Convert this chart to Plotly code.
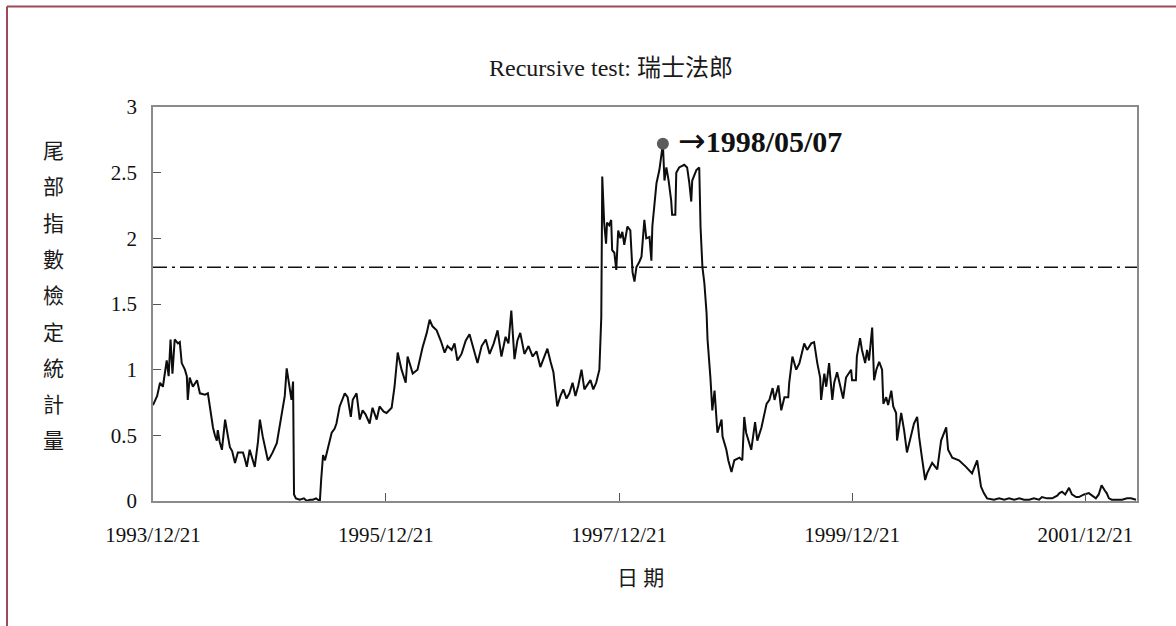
import plotly.graph_objects as go

# Recursive tail-index test statistic for the Swiss franc (瑞士法郎)
obs_dates = [
    "1993-12-21", "1994-01-03", "1994-01-12", "1994-01-21", "1994-02-02", "1994-02-08", "1994-02-14", "1994-02-20",
    "1994-02-27", "1994-03-09", "1994-03-15", "1994-03-21", "1994-03-31", "1994-04-06", "1994-04-09", "1994-04-15",
    "1994-04-25", "1994-05-08", "1994-05-17", "1994-06-02", "1994-06-11", "1994-06-17", "1994-06-27", "1994-07-03",
    "1994-07-09", "1994-07-12", "1994-07-18", "1994-07-25", "1994-08-04", "1994-08-13", "1994-08-19", "1994-08-26",
    "1994-09-04", "1994-09-13", "1994-09-29", "1994-10-05", "1994-10-11", "1994-10-20", "1994-10-27", "1994-11-05",
    "1994-11-15", "1994-11-21", "1994-11-30", "1994-12-07", "1994-12-16", "1994-12-22", "1994-12-31", "1995-01-13",
    "1995-01-22", "1995-02-01", "1995-02-07", "1995-02-13", "1995-02-22", "1995-02-28", "1995-03-05", "1995-03-08",
    "1995-03-14", "1995-03-26", "1995-04-08", "1995-04-17", "1995-04-27", "1995-05-06", "1995-05-16", "1995-05-28",
    "1995-06-01", "1995-06-07", "1995-06-13", "1995-06-22", "1995-07-04", "1995-07-13", "1995-07-19", "1995-07-29",
    "1995-08-07", "1995-08-14", "1995-08-23", "1995-09-02", "1995-09-08", "1995-09-20", "1995-09-30", "1995-10-09",
    "1995-10-18", "1995-10-31", "1995-11-09", "1995-11-22", "1995-12-01", "1995-12-14", "1995-12-23", "1996-01-08",
    "1996-01-17", "1996-01-27", "1996-02-08", "1996-02-21", "1996-02-27", "1996-03-04", "1996-03-14", "1996-03-29",
    "1996-04-05", "1996-04-14", "1996-04-27", "1996-05-06", "1996-05-15", "1996-05-28", "1996-06-10", "1996-06-22",
    "1996-07-01", "1996-07-14", "1996-07-23", "1996-08-01", "1996-08-14", "1996-08-27", "1996-09-08", "1996-09-21",
    "1996-10-03", "1996-10-16", "1996-10-29", "1996-11-10", "1996-11-23", "1996-12-05", "1996-12-17", "1996-12-30",
    "1997-01-08", "1997-01-17", "1997-01-27", "1997-02-05", "1997-02-14", "1997-02-27", "1997-03-12", "1997-03-25",
    "1997-04-06", "1997-04-18", "1997-05-01", "1997-05-10", "1997-05-20", "1997-05-29", "1997-06-04", "1997-06-10",
    "1997-06-20", "1997-06-29", "1997-07-09", "1997-07-18", "1997-07-28", "1997-08-06", "1997-08-15", "1997-08-25",
    "1997-09-03", "1997-09-12", "1997-09-22", "1997-10-01", "1997-10-10", "1997-10-20", "1997-10-26", "1997-10-29",
    "1997-11-04", "1997-11-10", "1997-11-13", "1997-11-20", "1997-11-26", "1997-11-29", "1997-12-06", "1997-12-12",
    "1997-12-18", "1997-12-25", "1997-12-31", "1998-01-06", "1998-01-16", "1998-01-25", "1998-02-01", "1998-02-07",
    "1998-02-13", "1998-02-22", "1998-03-01", "1998-03-10", "1998-03-16", "1998-03-26", "1998-04-01", "1998-04-04",
    "1998-04-10", "1998-04-17", "1998-04-26", "1998-05-07", "1998-05-12", "1998-05-18", "1998-05-25", "1998-06-02",
    "1998-06-05", "1998-06-15", "1998-06-18", "1998-06-27", "1998-07-13", "1998-07-22", "1998-07-29", "1998-08-04",
    "1998-08-07", "1998-08-20", "1998-08-29", "1998-09-02", "1998-09-08", "1998-09-14", "1998-09-21", "1998-09-24",
    "1998-10-03", "1998-10-09", "1998-10-16", "1998-10-22", "1998-10-25", "1998-11-07", "1998-11-10", "1998-11-22",
    "1998-11-28", "1998-12-08", "1998-12-17", "1999-01-02", "1999-01-11", "1999-01-17", "1999-01-23", "1999-02-08",
    "1999-02-20", "1999-02-27", "1999-03-12", "1999-03-28", "1999-04-06", "1999-04-16", "1999-04-22", "1999-05-04",
    "1999-05-13", "1999-05-23", "1999-06-04", "1999-06-07", "1999-06-17", "1999-06-29", "1999-07-09", "1999-07-24",
    "1999-08-02", "1999-08-15", "1999-08-24", "1999-09-03", "1999-09-12", "1999-09-15", "1999-09-25", "1999-10-01",
    "1999-10-10", "1999-10-20", "1999-10-26", "1999-11-04", "1999-11-17", "1999-11-23", "1999-12-02", "1999-12-18",
    "1999-12-21", "2000-01-02", "2000-01-05", "2000-01-15", "2000-01-21", "2000-01-31", "2000-02-06", "2000-02-12",
    "2000-02-22", "2000-02-28", "2000-03-06", "2000-03-15", "2000-03-24", "2000-03-28", "2000-04-06", "2000-04-12",
    "2000-04-22", "2000-04-28", "2000-05-07", "2000-05-10", "2000-05-23", "2000-06-01", "2000-06-10", "2000-06-23",
    "2000-07-02", "2000-07-12", "2000-07-18", "2000-07-27", "2000-08-06", "2000-08-12", "2000-08-28", "2000-09-13",
    "2000-09-25", "2000-10-11", "2000-10-17", "2000-10-30", "2000-11-20", "2000-12-12", "2000-12-31", "2001-01-16",
    "2001-01-28", "2001-02-06", "2001-02-16", "2001-03-10", "2001-03-26", "2001-04-11", "2001-04-26", "2001-05-12",
    "2001-05-28", "2001-06-12", "2001-06-28", "2001-07-13", "2001-07-29", "2001-08-07", "2001-08-23", "2001-09-08",
    "2001-09-24", "2001-10-01", "2001-10-09", "2001-10-19", "2001-10-31", "2001-11-09", "2001-11-22", "2001-12-01",
    "2001-12-17", "2002-01-01", "2002-01-14", "2002-01-23", "2002-02-01", "2002-02-10", "2002-02-20", "2002-02-26",
    "2002-03-05", "2002-03-14", "2002-03-30", "2002-04-15", "2002-05-01", "2002-05-13", "2002-05-29",
]

tail_stat = [
    0.73, 0.80, 0.90, 0.87, 1.07, 0.95, 1.23, 0.97,
    1.23, 1.20, 1.21, 1.05, 1.00, 0.95, 0.77, 0.94,
    0.87, 0.92, 0.82, 0.81, 0.82, 0.72, 0.56, 0.50,
    0.46, 0.54, 0.45, 0.39, 0.62, 0.49, 0.41, 0.38,
    0.29, 0.37, 0.37, 0.32, 0.26, 0.39, 0.33, 0.26,
    0.45, 0.62, 0.49, 0.40, 0.31, 0.33, 0.37, 0.44,
    0.56, 0.69, 0.80, 1.01, 0.87, 0.77, 0.91, 0.05,
    0.02, 0.01, 0.02, 0.00, 0.01, 0.01, 0.02, 0.00,
    0.16, 0.35, 0.31, 0.41, 0.52, 0.55, 0.59, 0.72,
    0.78, 0.82, 0.79, 0.64, 0.77, 0.82, 0.62, 0.69,
    0.66, 0.59, 0.71, 0.62, 0.72, 0.68, 0.67, 0.71,
    0.87, 1.13, 1.00, 0.90, 1.10, 1.05, 0.97, 1.00,
    1.08, 1.17, 1.28, 1.38, 1.33, 1.30, 1.22, 1.13,
    1.18, 1.15, 1.20, 1.07, 1.12, 1.22, 1.27, 1.15,
    1.05, 1.18, 1.23, 1.12, 1.20, 1.30, 1.10, 1.25,
    1.20, 1.45, 1.08, 1.22, 1.28, 1.12, 1.18, 1.10,
    1.14, 1.02, 1.10, 1.16, 1.06, 0.98, 0.85, 0.72,
    0.80, 0.85, 0.78, 0.82, 0.90, 0.80, 0.88, 1.00,
    0.85, 0.88, 0.92, 0.85, 0.90, 1.00, 1.40, 2.47,
    2.12, 1.96, 2.12, 2.10, 2.14, 1.91, 1.89, 1.76,
    2.06, 2.00, 2.05, 1.95, 2.09, 2.06, 1.74, 1.67,
    1.78, 1.82, 1.86, 2.14, 2.00, 2.01, 1.83, 2.09,
    2.25, 2.42, 2.52, 2.72, 2.44, 2.54, 2.44, 2.29,
    2.18, 2.18, 2.50, 2.54, 2.56, 2.54, 2.42, 2.28,
    2.44, 2.52, 2.54, 2.09, 1.78, 1.66, 1.43, 1.23,
    0.94, 0.69, 0.84, 0.64, 0.52, 0.62, 0.49, 0.39,
    0.31, 0.22, 0.31, 0.33, 0.31, 0.64, 0.52, 0.39,
    0.60, 0.46, 0.56, 0.74, 0.77, 0.86, 0.77, 0.88,
    0.69, 0.79, 0.79, 0.90, 1.10, 1.00, 1.05, 1.20,
    1.15, 1.20, 1.21, 1.05, 0.94, 0.77, 0.97, 0.87,
    1.05, 0.77, 0.90, 0.98, 0.84, 0.78, 0.94, 1.00,
    0.92, 0.92, 1.10, 1.24, 1.15, 1.05, 1.15, 1.07,
    1.32, 0.92, 1.00, 1.06, 1.00, 0.74, 0.79, 0.73,
    0.84, 0.72, 0.67, 0.46, 0.67, 0.54, 0.37, 0.49,
    0.59, 0.64, 0.49, 0.33, 0.16, 0.21, 0.29, 0.24,
    0.46, 0.56, 0.39, 0.33, 0.31, 0.26, 0.21, 0.31,
    0.11, 0.06, 0.02, 0.01, 0.02, 0.01, 0.02, 0.01,
    0.02, 0.01, 0.01, 0.02, 0.01, 0.03, 0.02, 0.02,
    0.04, 0.06, 0.07, 0.05, 0.10, 0.05, 0.03, 0.03,
    0.05, 0.06, 0.04, 0.02, 0.05, 0.12, 0.08, 0.06,
    0.02, 0.01, 0.01, 0.01, 0.02, 0.02, 0.01,
]
assert len(obs_dates) == len(tail_stat)

critical_value = 1.78
x_tick_dates = ["1993-12-21", "1995-12-21", "1997-12-21", "1999-12-21", "2001-12-21"]
x_tick_labels = [d.replace("-", "/") for d in x_tick_dates]
x_end = "2002-06-01"

title_text = "Recursive test: 瑞士法郎"
y_title_chars = list("尾部指數檢定統計量")
x_title_text = "日 期"

# ---- canvas geometry (pixels) ----
W, H = 1176, 626
ML, MR, MT, MB = 153, 39, 107, 125
PW, PH = W - ML - MR, H - MT - MB


def fx(px):
    return (px - ML) / PW


def fy(py):
    return (H - MB - py) / PH


SERIF = "Liberation Serif, 'Noto Sans CJK TC', serif"
AXIS_GREY = "#8a8a8a"

fig = go.Figure()

fig.add_trace(go.Scatter(
    x=obs_dates, y=tail_stat, mode="lines",
    line=dict(color="#0d0d0d", width=2), hoverinfo="skip", showlegend=False,
))

# peak marker
peak_i = max(range(len(tail_stat)), key=lambda i: tail_stat[i])
peak_date, peak_val = obs_dates[peak_i], tail_stat[peak_i]
fig.add_trace(go.Scatter(
    x=[peak_date], y=[peak_val], mode="markers",
    marker=dict(color="#5c5c5c", size=12), hoverinfo="skip", showlegend=False,
))
fig.add_annotation(
    x=peak_date, y=peak_val, xref="x", yref="y",
    text='<span style="font-family:DejaVu Sans;font-size:33px">→</span><b>'
         + peak_date.replace("-", "/") + "</b>",
    showarrow=False, xanchor="left", yanchor="middle", xshift=13, yshift=3,
    font=dict(family=SERIF, size=30, color="#111111"),
)

# critical value line
fig.add_hline(y=critical_value, line=dict(color="#111111", width=1.6, dash="14px,5px,3px,5px"))

shapes = [
    # faint backdrop behind the chart
    dict(type="rect", xref="paper", yref="paper", layer="below",
         x0=fx(33), x1=fx(1150), y0=fy(593), y1=fy(42),
         fillcolor="#fafafa", line=dict(width=0)),
    dict(type="rect", xref="paper", yref="paper", layer="below",
         x0=0, x1=1, y0=0, y1=1, fillcolor="white", line=dict(width=0)),
    # outer frame (top and left edges)
    dict(type="line", xref="paper", yref="paper",
         x0=fx(7), x1=fx(W + 5), y0=fy(6.5), y1=fy(6.5),
         line=dict(color="#9b4a58", width=2)),
    dict(type="line", xref="paper", yref="paper",
         x0=fx(7), x1=fx(7), y0=fy(6.5), y1=fy(H + 5),
         line=dict(color="#9b4a58", width=2)),
]

annotations = [
    dict(text=title_text, xref="paper", yref="paper", x=fx(611), y=fy(68),
         xanchor="center", yanchor="middle", showarrow=False,
         font=dict(family=SERIF, size=24, color="#1a1a1a")),
    dict(text=x_title_text, xref="paper", yref="paper", x=fx(640), y=fy(578),
         xanchor="center", yanchor="middle", showarrow=False,
         font=dict(family=SERIF, size=21, color="#1a1a1a")),
]
for i, ch in enumerate(y_title_chars):
    annotations.append(dict(
        text=ch, xref="paper", yref="paper", x=fx(53), y=fy(151 + i * 36.3),
        xanchor="center", yanchor="middle", showarrow=False,
        font=dict(family=SERIF, size=21, color="#1a1a1a"),
    ))

fig.update_layout(
    width=W, height=H,
    margin=dict(l=ML, r=MR, t=MT, b=MB),
    paper_bgcolor="white", plot_bgcolor="white",
    shapes=shapes,
    xaxis=dict(
        type="date", range=[obs_dates[0], x_end],
        tickmode="array", tickvals=x_tick_dates, ticktext=x_tick_labels,
        ticks="inside", ticklen=8, tickwidth=1.2, tickcolor="#555555",
        showline=True, linecolor=AXIS_GREY, linewidth=1.8, mirror=True,
        showgrid=False, zeroline=False, ticklabelstandoff=14,
        tickfont=dict(family=SERIF, size=21, color="#111111"),
    ),
    yaxis=dict(
        range=[0, 3], tickmode="linear", tick0=0, dtick=0.5,
        ticks="inside", ticklen=8, tickwidth=1.2, tickcolor="#555555",
        showline=True, linecolor=AXIS_GREY, linewidth=1.8, mirror=True,
        showgrid=False, zeroline=False, ticklabelstandoff=10,
        tickfont=dict(family=SERIF, size=21, color="#111111"),
    ),
)
for a in annotations:
    fig.add_annotation(**a)

fig.write_html("out.html")
